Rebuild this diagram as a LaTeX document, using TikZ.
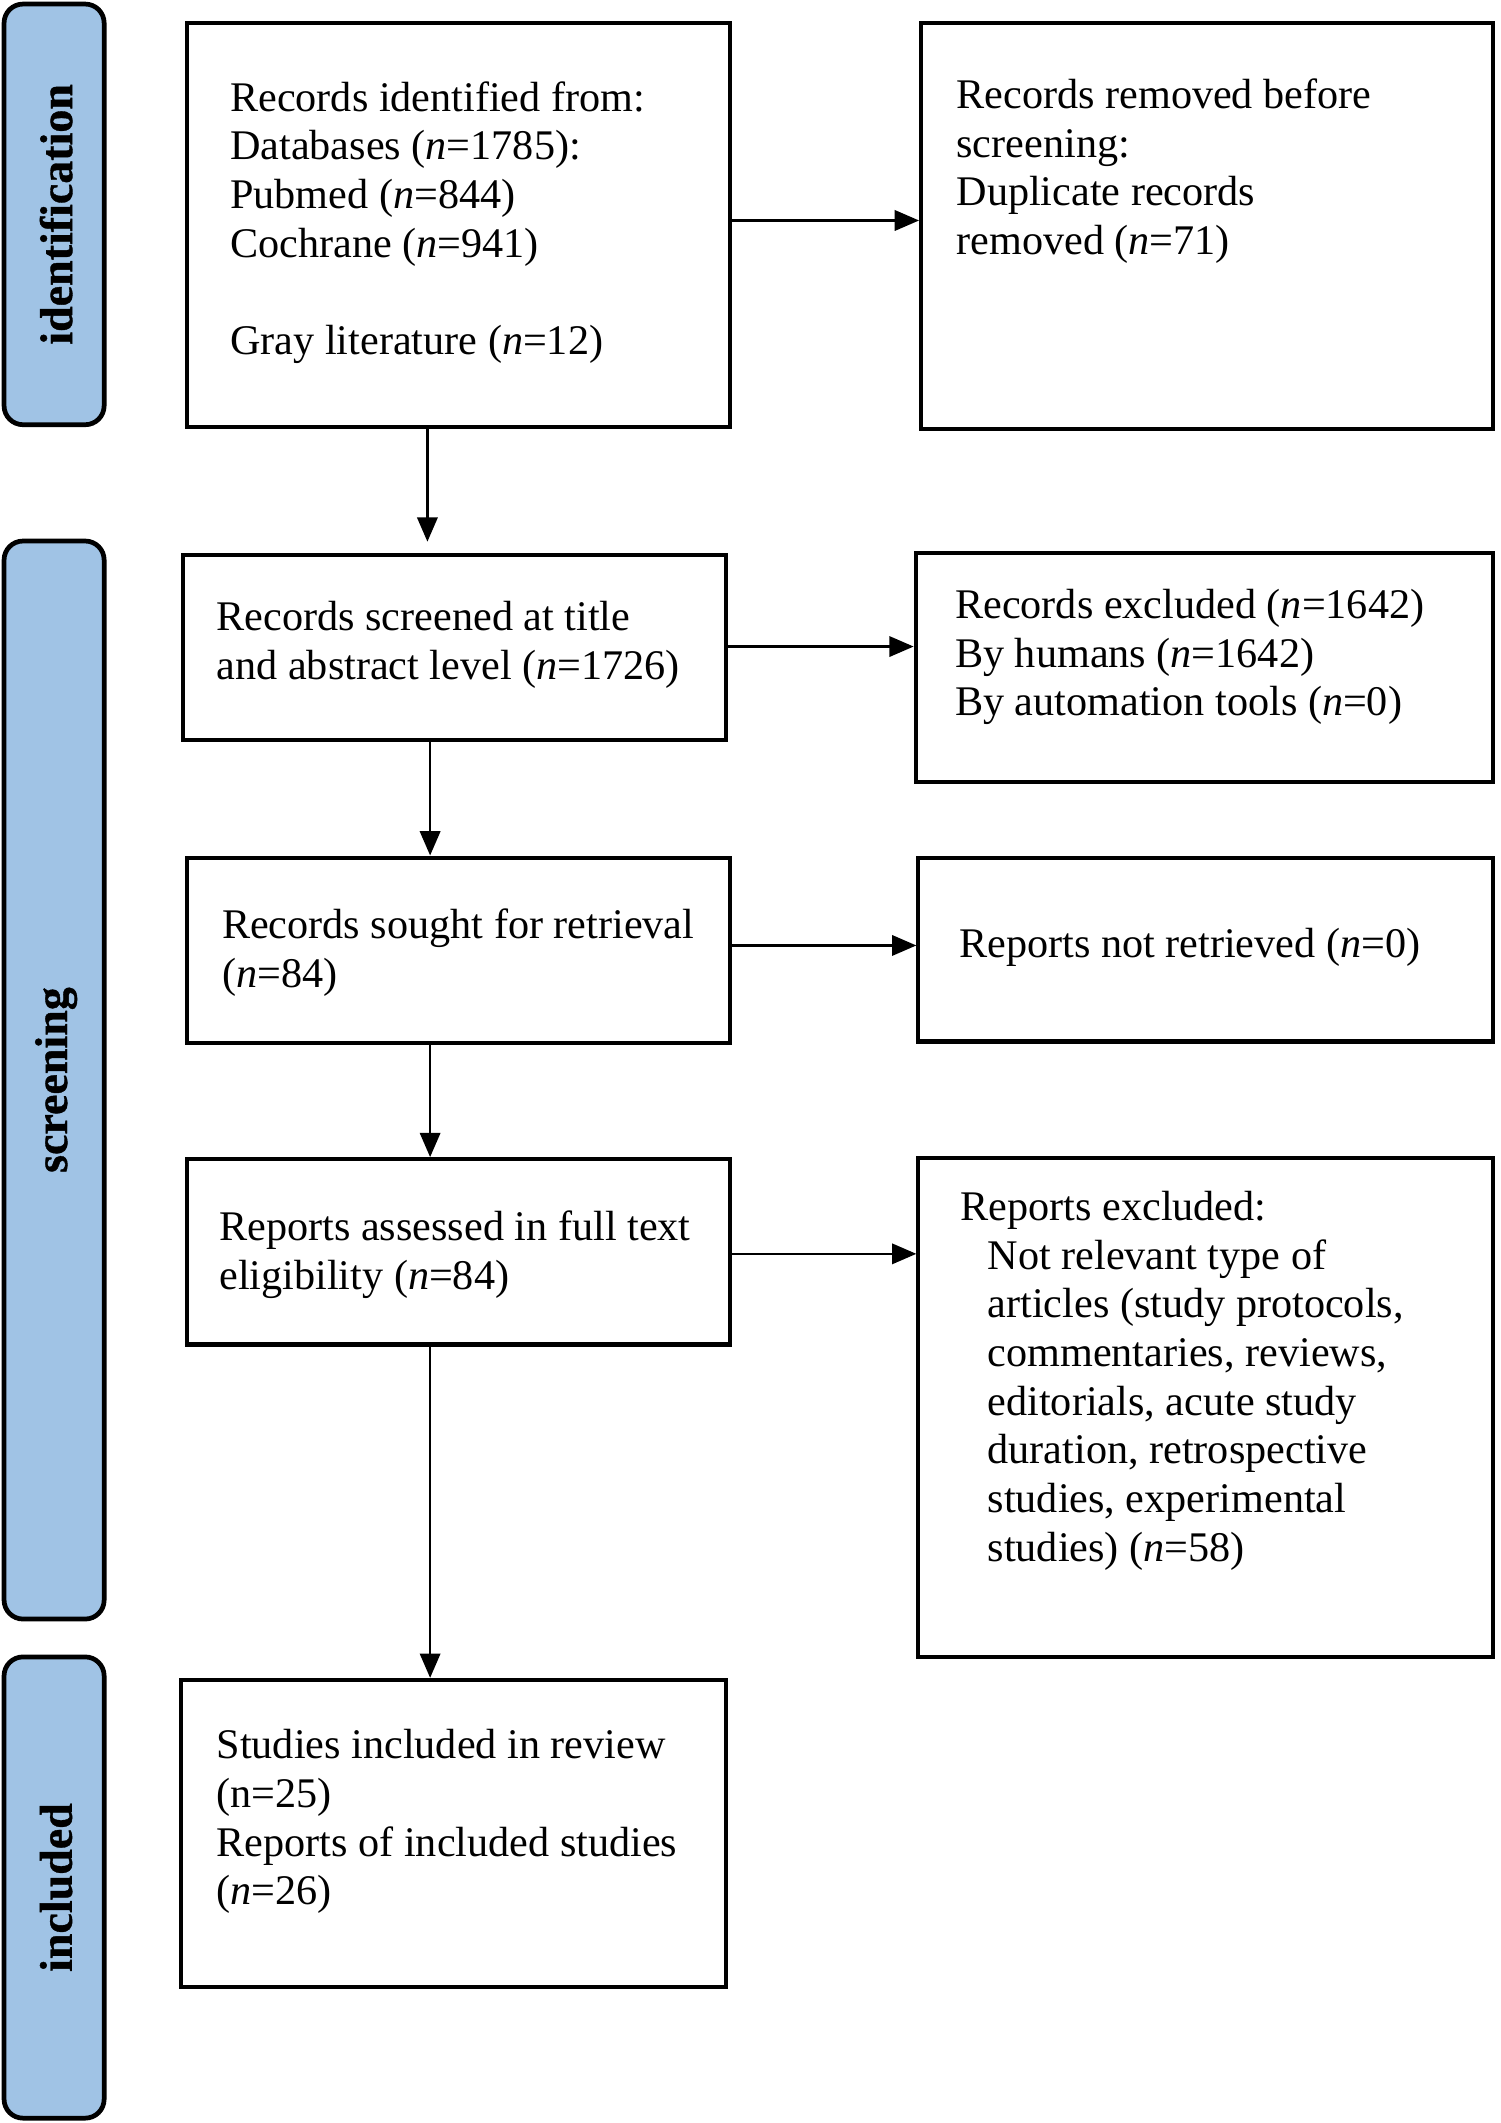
\documentclass[tikz,border=0pt]{standalone}
\usepackage{fontspec}
\setmainfont{Liberation Serif}
\newfontfamily\barfont{Liberation Serif}[BoldFeatures={FakeBold=0.8}]
\usetikzlibrary{arrows.meta}
\definecolor{barblue}{RGB}{160,195,229}
\tikzset{
  box/.style={draw=black, line width=3pt, fill=white, inner sep=0pt},
  bar/.style={draw=black, line width=3.5pt, fill=barblue, rounded corners=14pt, inner sep=0pt, minimum width=74pt},
  barlbl/.style={font=\barfont\fontsize{34}{36}\selectfont\bfseries, rotate=90, inner sep=0pt},
  txt/.style={font=\fontsize{31.2}{36}\selectfont, align=left, inner sep=0pt, anchor=north west},
  arr/.style={line width=2pt, -{Triangle[length=18pt,width=15pt]}},
}
\newcommand{\nn}{\textit{n}}
\begin{document}
\begin{tikzpicture}[x=1pt,y=-1pt]
\useasboundingbox (0,0) rectangle (1109,1569.6);
% side bars
\node[bar, minimum height=311pt] (bar1) at (40,158.5) {};
\node[bar, minimum height=797pt] (bar2) at (40,798.5) {};
\node[bar, minimum height=341pt] (bar3) at (40,1395.5) {};
\node[barlbl] (l1) at ([xshift=1.5pt]bar1.center) {identification};
\node[barlbl] (l2) at ([xshift=1.5pt]bar2.center) {screening};
\node[barlbl] (l3) at ([xshift=1.5pt]bar3.center) {included};
% boxes
\node[box, minimum width=402pt, minimum height=299pt] (b1) at (339,166.5) {};
\node[box, minimum width=423pt, minimum height=300pt] (b2) at (892.5,167) {};
\node[box, minimum width=402pt, minimum height=137pt] (b3) at (336,478.5) {};
\node[box, minimum width=427pt, minimum height=169pt] (b4) at (890.5,493.5) {};
\node[box, minimum width=402pt, minimum height=137pt] (b5) at (339,702.5) {};
\node[box, minimum width=425pt, minimum height=136pt] (b6) at (891.5,702) {};
\node[box, minimum width=402pt, minimum height=137pt] (b7) at (339,925.5) {};
\node[box, minimum width=425pt, minimum height=369pt] (b8) at (891.5,1040.5) {};
\node[box, minimum width=403pt, minimum height=227pt] (b9) at (335.5,1355.5) {};
% texts
\node[txt] (t1) at (170,56.8) {\strut Records identified from:\\Databases (\nn=1785):\\Pubmed (\nn=844)\\Cochrane (\nn=941)\\[36pt]Gray literature (\nn=12)};
\node[txt] (t2) at (707,54.8) {\strut Records removed before\\screening:\\Duplicate records\\removed (\nn=71)};
\node[txt] (t3) at (160,440.8) {\strut Records screened at title\\and abstract level (\nn=1726)};
\node[txt] (t4) at (706,431.8) {\strut Records excluded (\nn=1642)\\By humans (\nn=1642)\\By automation tools (\nn=0)};
\node[txt] (t5) at (164,668.8) {\strut Records sought for retrieval\\(\nn=84)};
\node[txt] (t6) at (709,682.8) {\strut Reports not retrieved (\nn=0)};
\node[txt] (t7) at (162,891.8) {\strut Reports assessed in full text\\eligibility (\nn=84)};
\node[txt] (t8a) at (710,876.8) {\strut Reports excluded:};
\node[txt] (t8b) at (730,912.8) {\strut Not relevant type of\\articles (study protocols,\\commentaries, reviews,\\editorials, acute study\\duration, retrospective\\studies, experimental\\studies) (\nn=58)};
\node[txt] (t9) at (160,1274.8) {\strut Studies included in review\\(n=25)\\Reports of included studies\\(\nn=26)};
% arrows
\draw[arr, shorten >=8pt] (316,0 |- b1.south) -- (316,0 |- b3.north);
\draw[arr] (318,0 |- b3.south) -- (318,0 |- b5.north);
\draw[arr] (318,0 |- b5.south) -- (318,0 |- b7.north);
\draw[arr] (318,0 |- b7.south) -- (318,0 |- b9.north);
\draw[arr] (b1.east |- 0,163) -- (b2.west |- 0,163);
\draw[arr] (b3.east |- 0,478) -- (b4.west |- 0,478);
\draw[arr] (b5.east |- 0,699) -- (b6.west |- 0,699);
\draw[arr] (b7.east |- 0,927) -- (b8.west |- 0,927);
\end{tikzpicture}
\end{document}
